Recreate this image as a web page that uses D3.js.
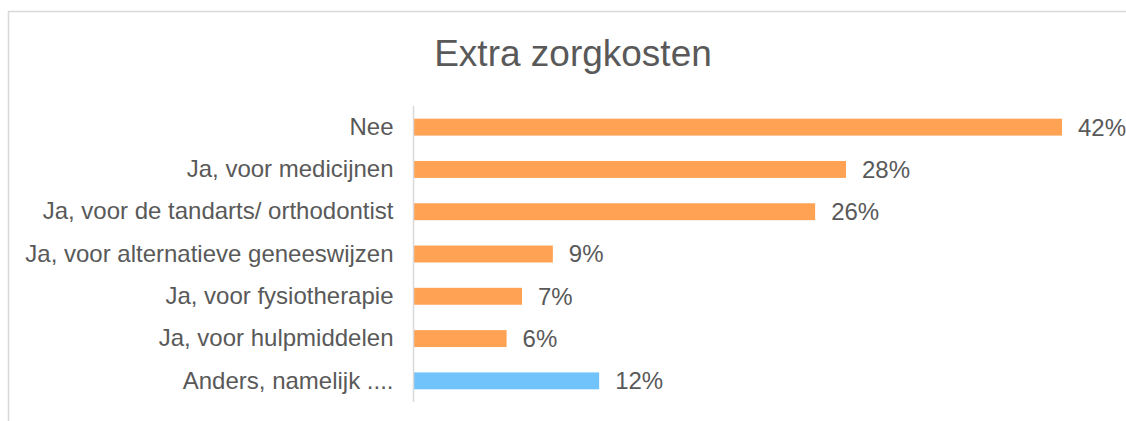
<!DOCTYPE html>
<html>
<head>
<meta charset="utf-8">
<script src="https://cdn.jsdelivr.net/npm/d3@7"></script>
<style>
  body { margin: 0; background: #fff; }
  text { font-family: "Liberation Sans", Arial, sans-serif; }
</style>
</head>
<body>
<div id="chart"></div>
<script>
// data
let categories = ["Nee", "Ja, voor medicijnen", "Ja, voor de tandarts/ orthodontist",
                  "Ja, voor alternatieve geneeswijzen", "Ja, voor fysiotherapie",
                  "Ja, voor hulpmiddelen", "Anders, namelijk ...."];
let values = [42, 28, 26, 9, 7, 6, 12];
let barColors = ["#ffa254", "#ffa254", "#ffa254", "#ffa254", "#ffa254", "#ffa254", "#70c3fb"];

let W = 1126, H = 421;
let x0 = 414, yTop = 106, yBot = 402;

let svg = d3.select("#chart").append("svg")
    .attr("width", W).attr("height", H);

// chart frame (right and bottom edges fall outside the picture)
svg.append("rect")
    .attr("x", 8.5).attr("y", 11.5)
    .attr("width", W + 20).attr("height", H + 20)
    .attr("fill", "none").attr("stroke", "#d9d9d9").attr("stroke-width", 1.5);

let data = categories.map((c, i) => ({name: c, value: values[i], color: barColors[i]}));

let xScale = d3.scaleLinear().domain([0, 42]).range([x0, 1062]);
let yScale = d3.scaleBand().domain(categories).range([yTop, yBot]).paddingInner(0.6).paddingOuter(0.3);

// TITLE
svg.append("text")
    .attr("x", 573).attr("y", 66)
    .attr("text-anchor", "middle")
    .attr("fill", "#595959")
    .style("font-size", "37px")
    .text("Extra zorgkosten");

// bars
svg.selectAll(".bar")
    .data(data)
    .enter().append("rect")
    .attr("class", "bar")
    .attr("x", xScale(0))
    .attr("y", d => yScale(d.name))
    .attr("width", d => xScale(d.value) - xScale(0))
    .attr("height", yScale.bandwidth())
    .attr("fill", d => d.color);

// category axis
let yAxis = svg.append("g")
    .attr("transform", "translate(" + (x0 - 0.5) + ",0)")
    .call(d3.axisLeft(yScale).tickSize(0).tickPadding(20));
yAxis.select(".domain").attr("stroke", "#d9d9d9").attr("stroke-width", 1.5)
    .attr("d", "M0," + yTop + "V" + yBot);
yAxis.selectAll("text")
    .attr("fill", "#595959")
    .style("font-size", "24px")
    .style("font-family", "'Liberation Sans', Arial, sans-serif");

// value labels
svg.selectAll(".val")
    .data(data)
    .enter().append("text")
    .attr("class", "val")
    .attr("x", d => xScale(d.value) + 16)
    .attr("y", d => yScale(d.name) + yScale.bandwidth() / 2)
    .attr("dy", "0.35em")
    .attr("fill", "#595959")
    .style("font-size", "24px")
    .text(d => d.value + "%");
</script>
</body>
</html>
